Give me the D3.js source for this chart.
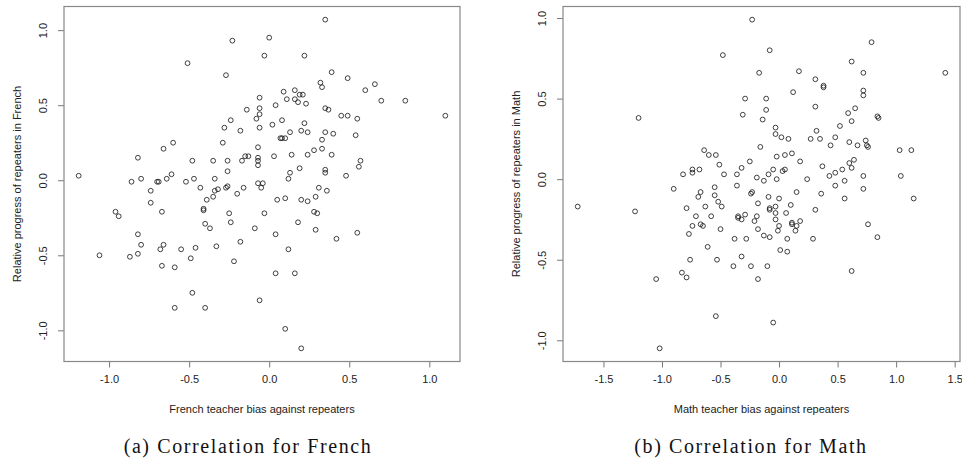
<!DOCTYPE html>
<html><head><meta charset="utf-8">
<script src="https://cdn.jsdelivr.net/npm/d3@7"></script>
<style>body{margin:0;background:#fff}svg{display:block}</style>
</head><body>
<svg id="chart" width="962" height="470"></svg>
<script>
const frenchBias = [0.35,-0.23,0.00,-0.51,-0.27,-0.03,0.22,0.39,0.49,0.32,0.33,0.60,0.66,0.70,0.85,1.10,0.09,0.16,0.19,0.21,0.11,0.16,0.18,0.23,0.04,-0.06,-0.14,-0.06,-0.06,-0.08,-0.06,0.02,0.08,0.22,0.13,0.20,0.24,0.35,0.37,0.45,0.49,0.55,-0.24,-0.28,-0.18,0.35,0.40,0.54,0.33,0.33,0.28,0.39,0.57,0.56,0.48,0.24,0.14,0.03,-0.07,-0.07,-0.07,-0.07,-0.17,-0.15,-0.13,0.19,0.13,0.12,0.35,0.35,0.07,0.08,0.10,-0.60,-0.66,-0.29,-0.82,-0.48,-0.35,-0.26,-0.26,-1.19,-0.86,-0.80,-0.70,-0.69,-0.64,-0.61,-0.52,-0.47,-0.34,-0.43,-0.26,-0.27,-0.16,-0.07,-0.04,-0.05,-0.34,-0.32,-0.20,-0.35,-0.39,-0.41,-0.41,-0.74,-0.74,-0.67,-0.96,-0.94,-0.25,-0.24,-0.40,-0.37,-0.03,-0.09,0.05,0.10,0.20,0.24,0.31,0.36,0.29,0.28,0.30,0.18,0.29,0.04,0.42,0.55,-0.18,-0.33,-0.46,-0.55,-0.66,-0.68,-0.80,-0.82,-0.49,-0.22,0.12,-0.67,-0.59,-1.06,-0.87,-0.82,0.04,0.16,-0.06,0.10,0.20,-0.48,-0.59,-0.40];
const frenchProgress = [1.07,0.93,0.95,0.78,0.70,0.83,0.83,0.72,0.68,0.65,0.62,0.60,0.64,0.53,0.53,0.43,0.59,0.60,0.57,0.57,0.54,0.54,0.52,0.51,0.50,0.55,0.47,0.48,0.44,0.41,0.35,0.37,0.40,0.38,0.32,0.33,0.32,0.48,0.47,0.43,0.43,0.41,0.40,0.35,0.33,0.32,0.31,0.30,0.27,0.21,0.20,0.17,0.13,0.09,0.03,0.17,0.17,0.16,0.22,0.15,0.13,0.10,0.13,0.16,0.16,0.08,0.05,0.01,0.07,0.05,0.28,0.28,0.28,0.25,0.21,0.25,0.15,0.13,0.13,0.13,0.06,0.03,-0.01,0.01,-0.01,-0.01,0.01,0.04,-0.01,0.01,0.01,-0.05,-0.04,-0.05,-0.05,-0.02,-0.02,-0.05,-0.07,-0.06,-0.09,-0.11,-0.13,-0.19,-0.20,-0.07,-0.15,-0.21,-0.21,-0.24,-0.22,-0.28,-0.29,-0.32,-0.22,-0.32,-0.13,-0.12,-0.13,-0.14,-0.05,-0.07,-0.11,-0.21,-0.22,-0.28,-0.33,-0.36,-0.39,-0.35,-0.41,-0.44,-0.45,-0.46,-0.43,-0.46,-0.43,-0.36,-0.52,-0.54,-0.46,-0.57,-0.58,-0.50,-0.51,-0.49,-0.62,-0.62,-0.80,-0.99,-1.12,-0.75,-0.85,-0.85];
const mathBias = [-0.48,-1.20,-0.64,-0.60,-0.54,-0.51,-0.47,-0.82,-0.74,-0.74,-0.68,-0.90,-0.55,-0.23,-0.08,0.79,0.62,0.72,1.42,-0.17,0.17,0.31,0.38,0.38,0.12,0.72,0.72,-0.29,-0.11,-0.11,-0.31,-0.14,0.31,0.59,0.65,0.62,0.84,0.85,0.52,-0.03,-0.03,0.02,0.08,0.32,0.27,0.35,0.48,0.44,0.60,0.67,0.74,0.75,0.76,1.03,1.13,-0.16,-0.02,0.05,0.11,0.18,0.37,0.60,0.64,0.62,0.43,0.48,0.54,0.56,0.72,1.04,-0.25,-0.32,-0.36,-0.19,-0.13,-0.09,-0.05,0.03,0.05,-0.02,0.24,-0.36,0.48,0.72,0.36,0.56,1.15,0.76,0.84,-0.55,-0.52,-0.49,-0.67,-0.69,-0.63,-0.79,-0.71,-0.58,-0.74,-0.67,-0.65,-0.77,-0.50,-0.61,-0.76,-0.53,-0.32,-0.38,-0.28,-0.24,-0.23,-0.18,-0.35,-0.35,-0.32,-0.29,-0.19,-0.21,-0.18,-0.09,0.00,-0.08,-0.08,-0.03,-0.03,-0.03,0.00,-0.01,0.06,0.10,0.11,0.11,0.15,0.18,0.14,-0.13,-0.08,0.07,0.01,0.07,0.29,0.31,0.15,-0.39,-0.24,-0.10,-0.18,0.62,-0.05,-1.72,-1.23,-0.83,-0.79,-1.05,-0.54,-1.02];
const mathProgress = [0.77,0.38,0.18,0.15,0.15,0.09,0.03,0.03,0.06,0.04,0.06,-0.06,-0.05,0.99,0.80,0.85,0.73,0.66,0.66,0.66,0.67,0.62,0.58,0.57,0.54,0.55,0.52,0.50,0.50,0.43,0.40,0.37,0.45,0.41,0.44,0.36,0.39,0.38,0.33,0.32,0.28,0.26,0.25,0.30,0.25,0.25,0.26,0.21,0.23,0.21,0.24,0.21,0.20,0.18,0.18,0.20,0.14,0.15,0.16,0.11,0.08,0.10,0.12,0.07,0.02,0.04,0.06,-0.01,0.02,0.02,0.11,0.07,0.03,0.01,-0.01,0.03,0.06,0.05,0.06,0.00,0.00,-0.04,-0.04,-0.06,-0.09,-0.12,-0.12,-0.28,-0.36,-0.10,-0.14,-0.17,-0.08,-0.11,-0.17,-0.18,-0.23,-0.23,-0.29,-0.28,-0.29,-0.34,-0.31,-0.42,-0.50,-0.50,-0.48,-0.37,-0.37,-0.09,-0.08,-0.15,-0.23,-0.24,-0.25,-0.22,-0.23,-0.26,-0.31,-0.11,-0.12,-0.18,-0.19,-0.17,-0.21,-0.25,-0.29,-0.32,-0.21,-0.16,-0.27,-0.28,-0.29,-0.26,-0.32,-0.35,-0.36,-0.37,-0.44,-0.45,-0.37,-0.19,-0.08,-0.54,-0.54,-0.54,-0.62,-0.57,-0.89,-0.17,-0.20,-0.58,-0.61,-0.62,-0.85,-1.05];

const frenchXTicks = [-1.0,-0.5,0.0,0.5,1.0];
const mathXTicks = [-1.5,-1.0,-0.5,0.0,0.5,1.0,1.5];
const yTicks = [-1.0,-0.5,0.0,0.5,1.0];

const panels = [
  {x: frenchBias, y: frenchProgress, xTicks: frenchXTicks, yTicks: yTicks,
   xTitle: "French teacher bias against repeaters",
   yTitle: "Relative progress of repeaters in French",
   caption: "(a) Correlation for French",
   left: 64, right: 460, capX: 248},
  {x: mathBias, y: mathProgress, xTicks: mathXTicks, yTicks: yTicks,
   xTitle: "Math teacher bias against repeaters",
   yTitle: "Relative progress of repeaters in Math",
   caption: "(b) Correlation for Math",
   left: 563, right: 960, capX: 751}
];
const plotTop = 6.5, plotBottom = 361.5;
const svg = d3.select("#chart");
const fmt = v => v.toFixed(1);
function padded(arr){
  const [a,b] = d3.extent(arr); const p = (b-a)*0.04; return [a-p, b+p];
}
panels.forEach(P => {
  const xs = d3.scaleLinear().domain(padded(P.x)).range([P.left, P.right]);
  const ys = d3.scaleLinear().domain(padded(P.y)).range([plotBottom, plotTop]);
  const g = svg.append("g");
  const xAxis = d3.axisBottom(xs).tickValues(P.xTicks).tickFormat(fmt).tickSize(6).tickPadding(8);
  const gx = g.append("g").attr("transform", `translate(0,${plotBottom})`).call(xAxis);
  const yAxis = d3.axisLeft(ys).tickValues(P.yTicks).tickFormat(fmt).tickSize(6);
  const gy = g.append("g").attr("transform", `translate(${P.left},0)`).call(yAxis);
  [gx, gy].forEach(a => {
    a.select(".domain").remove();
    a.selectAll(".tick line").attr("stroke", "#777").attr("stroke-width", 1);
    a.selectAll(".tick text").attr("fill", "#222").style("font-family", "'Liberation Sans', Arial, sans-serif").style("font-size", "11px");
  });
  gy.selectAll(".tick text")
    .attr("x", null).attr("dy", null)
    .attr("text-anchor", "middle")
    .attr("dominant-baseline", "central")
    .attr("transform", "translate(-21,0) rotate(-90)");
  g.append("rect").attr("x", P.left).attr("y", plotTop)
    .attr("width", P.right - P.left).attr("height", plotBottom - plotTop)
    .attr("fill", "none").attr("stroke", "#888").attr("stroke-width", 1.2);
  g.append("g").selectAll("circle").data(P.x.map((v,i)=>[v,P.y[i]])).join("circle")
    .attr("cx", d => xs(d[0])).attr("cy", d => ys(d[1])).attr("r", 2.4)
    .attr("fill", "none").attr("stroke", "#111").attr("stroke-width", 0.8);
  g.append("text").attr("x", (P.left+P.right)/2).attr("y", 413)
    .attr("text-anchor", "middle").attr("fill", "#222")
    .style("font-family", "'Liberation Sans', Arial, sans-serif").style("font-size", "11px")
    .text(P.xTitle);
  g.append("text").attr("transform", `translate(${P.left-47},${(plotTop+plotBottom)/2}) rotate(-90)`)
    .attr("text-anchor", "middle").attr("dominant-baseline", "central").attr("fill", "#222")
    .style("font-family", "'Liberation Sans', Arial, sans-serif").style("font-size", "11px")
    .text(P.yTitle);
  svg.append("text").attr("x", P.capX).attr("y", 453)
    .attr("text-anchor", "middle").attr("fill", "#111")
    .style("font-family", "'Liberation Serif', serif").style("font-size", "20px")
    .style("letter-spacing", "1.6px")
    .text(P.caption);
});
</script>
</body></html>
